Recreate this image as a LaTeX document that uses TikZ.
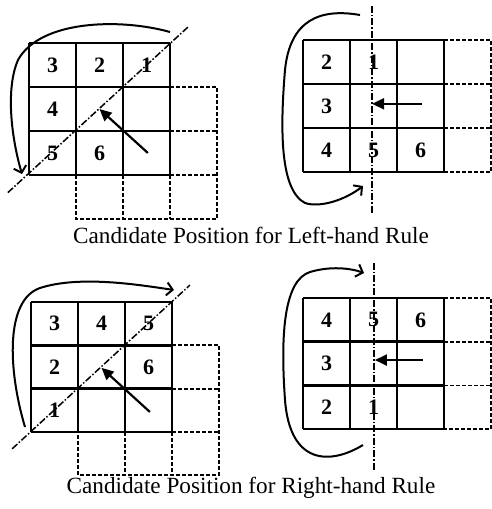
\documentclass[tikz,border=0pt]{standalone}
\usepackage{fontspec}
\setmainfont{Liberation Serif}
\usetikzlibrary{arrows.meta, calc}

\begin{document}
\begin{tikzpicture}[
    x=1pt,
    y=-1pt,
    >=Stealth,
    cellline/.style={line width=2.5pt},
    ghostline/.style={line width=1.8pt, dash pattern=on 4pt off 2pt},
    axisline/.style={line width=1.5pt, dash pattern=on 7pt off 2pt on 1.5pt off 2pt},
    loopline/.style={line width=2pt, -{Straight Barb[length=6pt, width=13pt, line width=2pt]}},
    headline/.style={line width=2.2pt, -{Triangle[length=12pt, width=11pt]}},
    num/.style={font=\fontsize{22}{22}\selectfont\bfseries, inner sep=0pt},
    caption/.style={font=\fontsize{23.2}{23.2}\selectfont, inner sep=0pt, anchor=base}
]
    \useasboundingbox (0,0) rectangle (491,509);
    % left-hand rule, diagonal heading
    \begin{scope}[shift={(29pt,-43pt)}, x=47pt, y=-44pt]
        \draw[ghostline] (3,1) -- (4,1) -- (4,4) -- (1,4) -- (1,3);
        \draw[ghostline] (3,2) -- (4,2) (3,3) -- (4,3) (2,3) -- (2,4) (3,3) -- (3,4);
        \foreach \i in {0,...,3} {
            \draw[cellline] (\i,0) -- (\i,3);
            \draw[cellline] (0,\i) -- (3,\i);
        }
        \node[num] (tl-3) at (0.5,0.5) {3};
        \node[num] (tl-2) at (1.5,0.5) {2};
        \node[num] (tl-1) at (2.5,0.5) {1};
        \node[num] (tl-4) at (0.5,1.5) {4};
        \node[num] (tl-5) at (0.5,2.5) {5};
        \node[num] (tl-6) at (1.5,2.5) {6};
        \coordinate (tl-lo) at (-0.45,3.4);
        \coordinate (tl-hi) at (3.38,-0.36);
        \coordinate (tl-tail) at (2.53,2.5);
        \coordinate (tl-tip) at (1.5,1.5);
        \draw[axisline] (tl-lo) -- (tl-hi);
        \draw[headline] (tl-tail) -- (tl-tip);
    \end{scope}
    % left-hand rule, straight heading
    \begin{scope}[shift={(303pt,-40pt)}, x=47pt, y=-44pt]
        \draw[ghostline] (3,0) -- (4,0) -- (4,3) -- (3,3) (3,1) -- (4,1) (3,2) -- (4,2);
        \foreach \i in {0,...,3} {
            \draw[cellline] (\i,0) -- (\i,3);
            \draw[cellline] (0,\i) -- (3,\i);
        }
        \node[num] (tr-2) at (0.5,0.5) {2};
        \node[num] (tr-1) at (1.5,0.5) {1};
        \node[num] (tr-3) at (0.5,1.5) {3};
        \node[num] (tr-4) at (0.5,2.5) {4};
        \node[num] (tr-5) at (1.5,2.5) {5};
        \node[num] (tr-6) at (2.5,2.5) {6};
        \coordinate (tr-lo) at (1.47,3.93);
        \coordinate (tr-hi) at (1.47,-0.8);
        \coordinate (tr-tail) at (2.53,1.45);
        \coordinate (tr-tip) at (1.47,1.45);
        \draw[axisline] (tr-lo) -- (tr-hi);
        \draw[headline] (tr-tail) -- (tr-tip);
    \end{scope}
    % right-hand rule, diagonal heading
    \begin{scope}[shift={(31pt,-302pt)}, x=47pt, y=-43.3pt]
        \draw[ghostline] (3,1) -- (4,1) -- (4,4) -- (1,4) -- (1,3);
        \draw[ghostline] (3,2) -- (4,2) (3,3) -- (4,3) (2,3) -- (2,4) (3,3) -- (3,4);
        \foreach \i in {0,...,3} {
            \draw[cellline] (\i,0) -- (\i,3);
            \draw[cellline] (0,\i) -- (3,\i);
        }
        \node[num] (bl-3) at (0.5,0.5) {3};
        \node[num] (bl-4) at (1.5,0.5) {4};
        \node[num] (bl-5) at (2.5,0.5) {5};
        \node[num] (bl-2) at (0.5,1.5) {2};
        \node[num] (bl-6) at (2.5,1.5) {6};
        \node[num] (bl-1) at (0.5,2.5) {1};
        \coordinate (bl-lo) at (-0.4,3.39);
        \coordinate (bl-hi) at (3.38,-0.39);
        \coordinate (bl-tail) at (2.53,2.54);
        \coordinate (bl-tip) at (1.5,1.52);
        \draw[axisline] (bl-lo) -- (bl-hi);
        \draw[headline] (bl-tail) -- (bl-tip);
    \end{scope}
    % right-hand rule, straight heading
    \begin{scope}[shift={(303pt,-298pt)}, x=47pt, y=-43.7pt]
        \draw[ghostline] (3,0) -- (4,0) -- (4,3) -- (3,3) (3,1) -- (4,1) (3,2) -- (4,2);
        \foreach \i in {0,...,3} {
            \draw[cellline] (\i,0) -- (\i,3);
            \draw[cellline] (0,\i) -- (3,\i);
        }
        \node[num] (br-4) at (0.5,0.5) {4};
        \node[num] (br-5) at (1.5,0.5) {5};
        \node[num] (br-6) at (2.5,0.5) {6};
        \node[num] (br-3) at (0.5,1.5) {3};
        \node[num] (br-2) at (0.5,2.5) {2};
        \node[num] (br-1) at (1.5,2.5) {1};
        \coordinate (br-lo) at (1.51,3.93);
        \coordinate (br-hi) at (1.51,-0.8);
        \coordinate (br-tail) at (2.55,1.42);
        \coordinate (br-tip) at (1.53,1.42);
        \draw[axisline] (br-lo) -- (br-hi);
        \draw[headline] (br-tail) -- (br-tip);
    \end{scope}
    % sweep arrows
    \coordinate (tl-from) at (170,32);
    \coordinate (tl-to) at (22,174);
    \draw[loopline] (tl-from) .. controls (120,18) and (40,20) .. (18,60)
        .. controls (5,90) and (12,140) .. (tl-to);
    \coordinate (tr-from) at (360,15);
    \coordinate (tr-to) at (363,186);
    \draw[loopline] (tr-from) .. controls (320,8) and (290,20) .. (285,70)
        .. controls (280,130) and (280,190) .. (305,203)
        .. controls (320,208) and (345,200) .. (tr-to);
    \coordinate (bl-from) at (25,427);
    \coordinate (bl-to) at (174,290);
    \draw[loopline] (bl-from) .. controls (8,370) and (5,300) .. (40,288)
        .. controls (80,275) and (140,285) .. (bl-to);
    \coordinate (br-from) at (363,445);
    \coordinate (br-to) at (364,273);
    \draw[loopline] (br-from) .. controls (330,465) and (290,465) .. (285,400)
        .. controls (280,330) and (285,280) .. (310,272)
        .. controls (330,266) and (350,268) .. (br-to);
    \node[caption] (cap-left) at (251,243) {Candidate Position for Left-hand Rule};
    \node[caption] (cap-right) at (251,493) {Candidate Position for Right-hand Rule};
\end{tikzpicture}
\end{document}
